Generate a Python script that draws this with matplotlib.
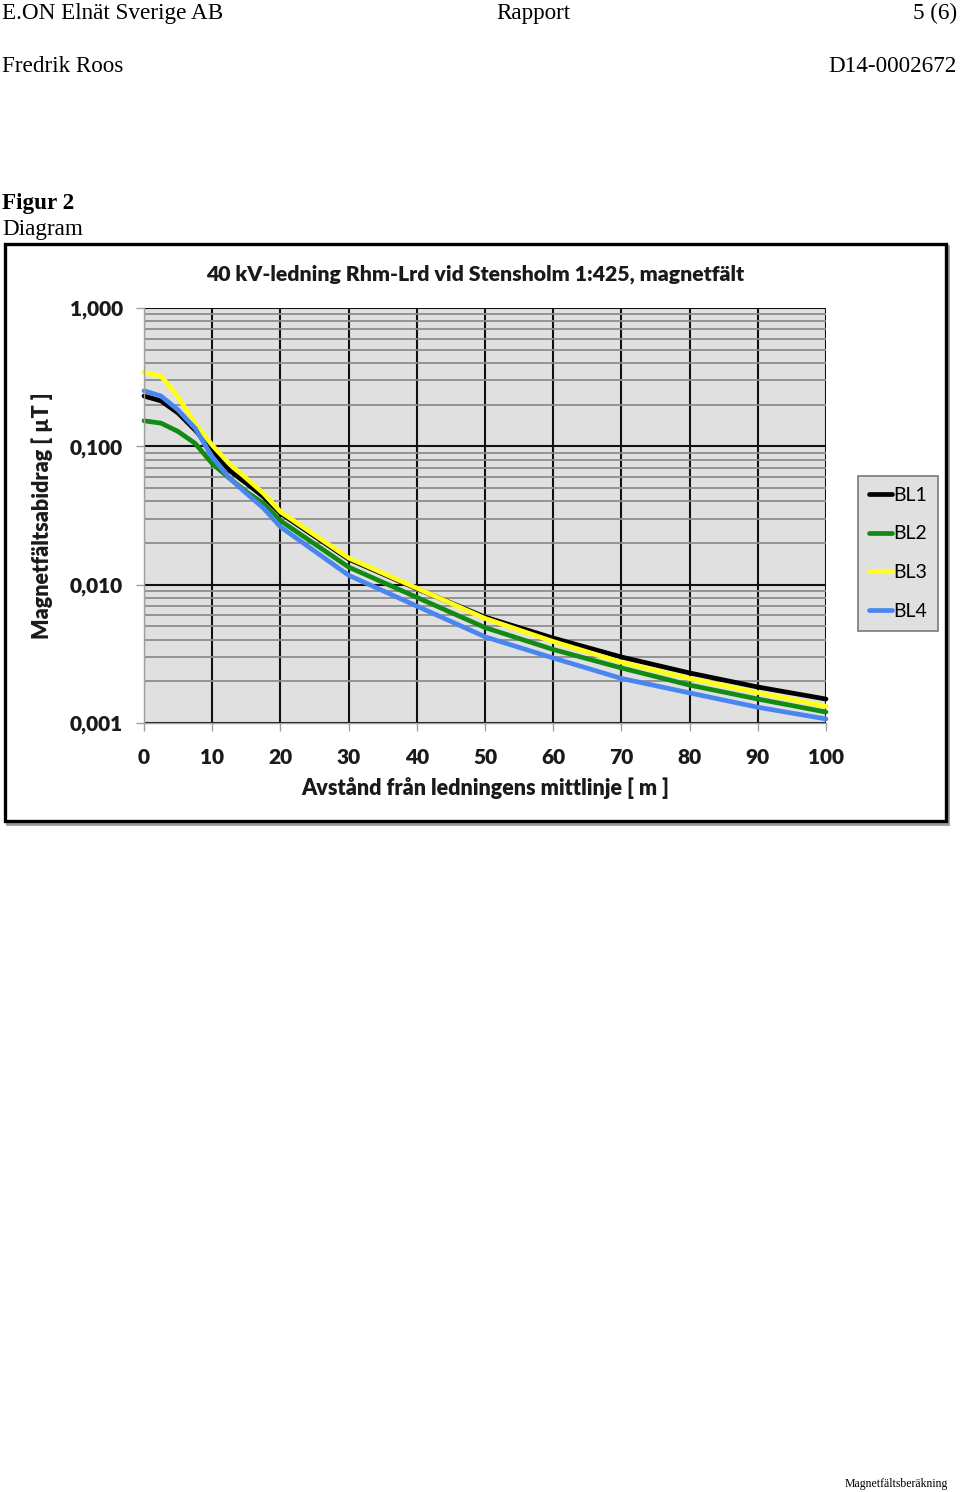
import numpy as np
import matplotlib
matplotlib.use('Agg')
import matplotlib.pyplot as plt
from matplotlib.patches import Rectangle
from matplotlib.ticker import LogLocator, NullFormatter

# distance from line centre [m]
dist = [0, 2.5, 5, 7.5, 10, 12.5, 15, 17.5, 20, 30, 40, 50, 60, 70, 80, 90, 100]

# magnetic field contribution [uT]
bl1 = [0.231, 0.213, 0.174, 0.131, 0.094, 0.067, 0.0541, 0.0433, 0.0328, 0.0153,
       0.00935, 0.00583, 0.00411, 0.00300, 0.00230, 0.00182, 0.00149]
bl2 = [0.153, 0.147, 0.128, 0.105, 0.075, 0.059, 0.0470, 0.0387, 0.0290, 0.0134,
       0.0081, 0.0049, 0.0034, 0.0025, 0.00188, 0.00149, 0.00120]
bl3 = [0.343, 0.322, 0.228, 0.146, 0.102, 0.075, 0.0588, 0.0458, 0.0337, 0.0156,
       0.00944, 0.0057, 0.00388, 0.00275, 0.00210, 0.00166, 0.00132]
bl4 = [0.252, 0.231, 0.183, 0.135, 0.084, 0.059, 0.0458, 0.0358, 0.0262, 0.0117,
       0.0070, 0.0042, 0.00295, 0.00210, 0.00165, 0.00130, 0.00107]

series_names = ['BL1', 'BL2', 'BL3', 'BL4']
series_colors = ['#000000', '#138a13', '#ffff1a', '#4a86f0']

y_ticks = [0.001, 0.01, 0.1, 1.0]
y_ticklabels = ['0,001', '0,010', '0,100', '1,000']
x_ticks = list(range(0, 101, 10))

W, H = 960, 1492
fig = plt.figure(figsize=(W / 100, H / 100), dpi=100)
fig.patch.set_facecolor('white')


def fx(px):
    return px / W


def fy(py):
    return 1 - py / H


serif = 'Liberation Serif'
sans = 'Lato'
ink = '#1a1a1a'

# page header / footer
fig.text(fx(2), fy(13), 'E.ON Elnät Sverige AB', family=serif, fontsize=16.7, va='center', ha='left')
fig.text(fx(533), fy(13), 'Rapport', family=serif, fontsize=16.7, va='center', ha='center')
fig.text(fx(957), fy(13), '5 (6)', family=serif, fontsize=16.7, va='center', ha='right')
fig.text(fx(2), fy(66), 'Fredrik Roos', family=serif, fontsize=16.7, va='center', ha='left')
fig.text(fx(957), fy(66), 'D14-0002672', family=serif, fontsize=16.7, va='center', ha='right')
fig.text(fx(2), fy(203), 'Figur 2', family=serif, fontsize=16.7, weight='bold', va='center', ha='left')
fig.text(fx(2), fy(229), 'Diagram', family=serif, fontsize=16.7, va='center', ha='left')
fig.text(fx(948), fy(1484), 'Magnetfältsberäkning', family=serif, fontsize=8.5, va='center', ha='right')

# chart frame with a little shadow
fig.patches.append(Rectangle((fx(7), fy(824)), fx(948) - fx(7), fy(246) - fy(824),
                             transform=fig.transFigure, facecolor='none',
                             edgecolor='#9a9a9a', lw=2.0, zorder=0))
fig.patches.append(Rectangle((fx(5), fy(821)), fx(946) - fx(5), fy(244) - fy(821),
                             transform=fig.transFigure, facecolor='white',
                             edgecolor='black', lw=2.4, zorder=1))

ax = fig.add_axes([fx(144), fy(723), fx(826) - fx(144), fy(308) - fy(723)])
ax.set_zorder(2)
ax.set_facecolor('#e0e0e0')
ax.set_yscale('log')
ax.set_xlim(0, 100)
ax.set_ylim(0.001, 1.0)

ax.yaxis.set_minor_locator(LogLocator(base=10, subs=np.arange(2, 10)))
ax.yaxis.set_minor_formatter(NullFormatter())
ax.grid(which='minor', axis='y', color='#8e8e8e', lw=1.3)
ax.grid(which='major', axis='both', color='#111111', lw=1.5)
ax.set_axisbelow(True)

ax.set_xticks(x_ticks)
ax.set_xticklabels([str(v) for v in x_ticks])
ax.set_yticks(y_ticks)
ax.set_yticklabels(y_ticklabels)
ax.tick_params(axis='x', which='major', length=6, width=1.0, color='#a0a0a0',
               labelsize=15, pad=12)
ax.tick_params(axis='y', which='major', length=6, width=1.0, color='#a0a0a0',
               labelsize=15, pad=9)
ax.tick_params(axis='y', which='minor', length=0)
for lab in ax.get_xticklabels() + ax.get_yticklabels():
    lab.set_family(sans)
    lab.set_weight('heavy')
    lab.set_color(ink)

for s in ['top', 'right']:
    ax.spines[s].set_visible(False)
for s in ['left', 'bottom']:
    ax.spines[s].set_color('#a0a0a0')
    ax.spines[s].set_linewidth(1.0)

data = [bl1, bl2, bl3, bl4]
for vals, name, col in zip(data, series_names, series_colors):
    ax.plot(dist, vals, color=col, lw=3.4, label=name, solid_capstyle='round',
            solid_joinstyle='round', clip_on=False)

# chart title sits centred on the whole chart box, not the plot area
fig.text(fx(475), fy(274), '40 kV-ledning Rhm-Lrd vid Stensholm 1:425, magnetfält',
         family=sans, weight='heavy', fontsize=15.3, color=ink, ha='center', va='center')
ax.set_xlabel('Avstånd från ledningens mittlinje [ m ]', family=sans, weight='heavy',
              fontsize=15.5, color=ink, labelpad=7)
ax.set_ylabel('Magnetfältsabidrag [ µT ]', family=sans, weight='heavy',
              fontsize=15.5, color=ink, labelpad=12)

leg = ax.legend(loc='upper left', bbox_to_anchor=(fx(858), fy(476)),
                bbox_transform=fig.transFigure, borderaxespad=0,
                handlelength=1.2, handletextpad=0.05,
                labelspacing=1.12, borderpad=0.55, fancybox=False, framealpha=1,
                prop={'family': sans, 'size': 14})
leg.get_frame().set_facecolor('#e0e0e0')
leg.get_frame().set_edgecolor('#7a7a7a')
leg.get_frame().set_linewidth(1.2)
for ln in leg.get_lines():
    ln.set_linewidth(3.4)

fig.savefig('out.png', dpi=100, facecolor='white')
